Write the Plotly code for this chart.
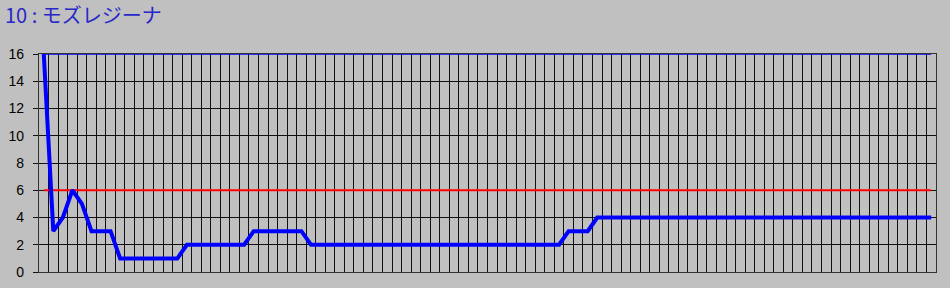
import plotly.graph_objects as go

title_text = "10 : モズレジーナ"
y_ticks = [0, 2, 4, 6, 8, 10, 12, 14, 16]
values = ([16, 3, 4, 6, 5] + [3] * 3 + [1] * 7 + [2] * 7 + [3] * 6 +
          [2] * 27 + [3] * 3 + [4] * 36)
n = len(values)
x_idx = list(range(n))
upper = [16] * n
threshold = [6] * n

fig = go.Figure()
fig.add_trace(go.Scatter(x=x_idx, y=threshold, mode="lines",
                         line=dict(color="#FF0000", width=1.8), hoverinfo="skip"))
fig.add_trace(go.Scatter(x=x_idx, y=upper, mode="lines",
                         line=dict(color="#0000FF", width=1.5), hoverinfo="skip"))
fig.add_trace(go.Scatter(x=x_idx, y=values, mode="lines",
                         line=dict(color="#0000FF", width=4)))

fig.update_layout(
    width=950, height=288,
    margin=dict(l=39, r=14, t=54, b=16, autoexpand=False),
    paper_bgcolor="#C0C0C0", plot_bgcolor="#C0C0C0",
    showlegend=False,
    title=dict(text=title_text, x=5 / 950, xanchor="left",
               y=1 - 16 / 288, yanchor="middle",
               font=dict(family="Noto Sans CJK JP", size=20, color="#2828C8")),
    xaxis=dict(range=[-0.5, n - 0.5], tickmode="linear", tick0=-0.5, dtick=1,
               showgrid=True, gridcolor="#111111", gridwidth=1.2,
               showticklabels=False, ticks="", zeroline=False, automargin=False,
               showline=True, linecolor="#333333", linewidth=1.2, mirror=True),
    yaxis=dict(range=[0, 16], tickmode="array", tickvals=y_ticks,
               showgrid=True, gridcolor="#111111", gridwidth=1.2,
               ticks="outside", ticklen=5, tickcolor="#111111",
               ticklabelstandoff=6, automargin=False,
               tickfont=dict(family="Liberation Sans, Arial", size=14, color="#000000"),
               zeroline=False,
               showline=True, linecolor="#333333", linewidth=1.2, mirror=True),
)

fig.write_html("out.html", config={"displayModeBar": False})
